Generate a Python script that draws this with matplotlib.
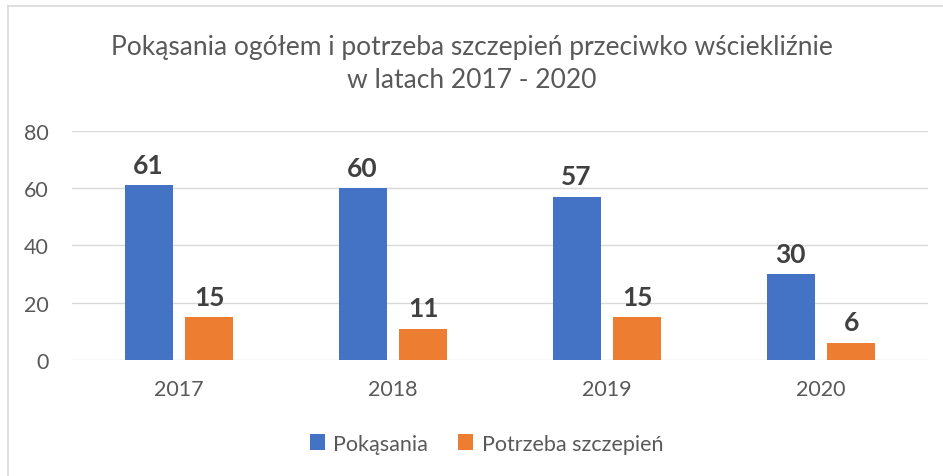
import matplotlib
matplotlib.use("Agg")
import matplotlib.pyplot as plt
from matplotlib.lines import Line2D
import numpy as np

plt.rcParams["font.family"] = ["Lato", "DejaVu Sans"]

YEARS = ["2017", "2018", "2019", "2020"]
POKASANIA = [61, 60, 57, 30]
SZCZEPIENIA = [15, 11, 15, 6]
SERIES = ["Pokąsania", "Potrzeba szczepień"]
COLORS = ["#4472C4", "#ED7D31"]
TEXT = "#595959"

fig = plt.figure(figsize=(9.43, 4.77), dpi=100)
ax = fig.add_axes([0.0764, 0.2432, 0.9077, 0.4801])

x = np.arange(len(YEARS))
w = 0.224
off = 0.142
for vals, dx, col, name in [(POKASANIA, -off, COLORS[0], SERIES[0]),
                            (SZCZEPIENIA, off, COLORS[1], SERIES[1])]:
    bars = ax.bar(x + dx, vals, w, color=col, label=name, zorder=3)
    for b, v in zip(bars, vals):
        ax.annotate(str(v), (b.get_x() + b.get_width() / 2, v),
                    xytext=(0, 6), textcoords="offset points",
                    ha="center", va="bottom", fontsize=19,
                    fontweight="bold", color="#404040")

ax.set_xlim(-0.5, 3.5)
ax.set_ylim(0, 80)
ax.set_yticks(range(0, 81, 20))
ax.set_xticks(x)
ax.set_xticklabels(YEARS)
ax.tick_params(length=0, labelsize=15.5, colors=TEXT)
ax.tick_params(axis="y", pad=17)
ax.tick_params(axis="x", pad=14)
ax.grid(axis="y", color="#D9D9D9", linewidth=1, zorder=0)
for s in ax.spines.values():
    s.set_visible(False)

fig.text(0.5, 0.9, "Pokąsania ogółem i potrzeba szczepień przeciwko wściekliźnie",
         ha="center", va="center", fontsize=19, color=TEXT)
fig.text(0.5, 0.832, "w latach 2017 - 2020",
         ha="center", va="center", fontsize=19, color=TEXT)

leg = fig.legend(loc="center", bbox_to_anchor=(0.516, 0.068), ncol=2,
                 frameon=False, fontsize=15.5, handlelength=0.7,
                 handleheight=0.7, handletextpad=0.4, columnspacing=1.4)
for t in leg.get_texts():
    t.set_color(TEXT)

# chart frame (top and left edges visible in the reference)
fig.add_artist(Line2D([0.0085, 1.0], [0.985, 0.985], color="#D9D9D9", lw=1.2,
                      transform=fig.transFigure))
fig.add_artist(Line2D([0.0085, 0.0085], [0.0, 0.985], color="#D9D9D9", lw=1.2,
                      transform=fig.transFigure))

fig.savefig("out.png", dpi=100)
